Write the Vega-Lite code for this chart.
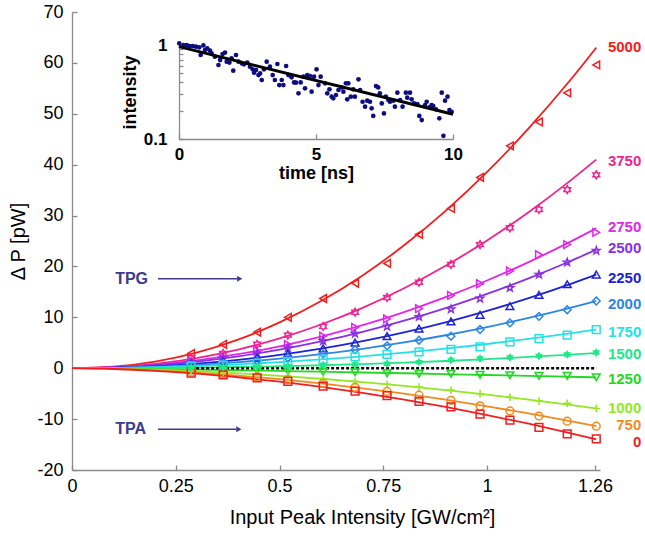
{
"$schema":"https://vega.github.io/schema/vega-lite/v6.json",
"width":528,"height":458,
"autosize":{"type":"none"},
"padding":{"left":72,"top":12,"right":45,"bottom":66},
"background":"white",
"config":{"view":{"stroke":null},"font":"Liberation Sans",
 "axis":{"grid":false,"domainColor":"#8a8a8a","tickColor":"#8a8a8a","domainWidth":1.3,"tickWidth":1.3,"labelColor":"#000","titleColor":"#000","labelFont":"Liberation Sans","titleFont":"Liberation Sans","labelFlush":false,"labelOverlap":false}},
"datasets":{
 "curves":[
  {"x":0,"P5000":0,"P3750":0,"P2750":0,"P2500":0,"P2250":0,"P2000":0,"P1750":0,"P1500":0,"P1250":0,"P1000":0,"P750":0,"P0":0},
  {"x":0.1,"P5000":0.31,"P3750":0.20,"P2750":0.17,"P2500":0.15,"P2250":0.09,"P2000":0.06,"P1750":0.05,"P1500":0.01,"P1250":-0.07,"P1000":-0.08,"P750":-0.12,"P0":-0.15},
  {"x":0.2,"P5000":1.31,"P3750":0.86,"P2750":0.69,"P2500":0.58,"P2250":0.38,"P2000":0.28,"P1750":0.19,"P1500":0.05,"P1250":-0.16,"P1000":-0.29,"P750":-0.41,"P0":-0.51},
  {"x":0.3,"P5000":3.08,"P3750":2.00,"P2750":1.55,"P2500":1.31,"P2250":0.90,"P2000":0.65,"P1750":0.43,"P1500":0.13,"P1250":-0.28,"P1000":-0.59,"P750":-0.86,"P0":-1.05},
  {"x":0.4,"P5000":5.63,"P3750":3.67,"P2750":2.76,"P2500":2.34,"P2250":1.65,"P2000":1.18,"P1750":0.76,"P1500":0.24,"P1250":-0.40,"P1000":-1.00,"P750":-1.44,"P0":-1.77},
  {"x":0.5,"P5000":9.00,"P3750":5.86,"P2750":4.31,"P2500":3.65,"P2250":2.63,"P2000":1.89,"P1750":1.19,"P1500":0.39,"P1250":-0.54,"P1000":-1.49,"P750":-2.15,"P0":-2.64},
  {"x":0.6,"P5000":13.20,"P3750":8.59,"P2750":6.21,"P2500":5.26,"P2250":3.85,"P2000":2.77,"P1750":1.72,"P1500":0.58,"P1250":-0.68,"P1000":-2.07,"P750":-2.98,"P0":-3.67},
  {"x":0.7,"P5000":18.24,"P3750":11.87,"P2750":8.45,"P2500":7.16,"P2250":5.33,"P2000":3.82,"P1750":2.33,"P1500":0.82,"P1250":-0.84,"P1000":-2.73,"P750":-3.94,"P0":-4.84},
  {"x":0.8,"P5000":24.15,"P3750":15.72,"P2750":11.03,"P2500":9.35,"P2250":7.05,"P2000":5.06,"P1750":3.05,"P1500":1.10,"P1250":-0.99,"P1000":-3.47,"P750":-5.01,"P0":-6.15},
  {"x":0.9,"P5000":30.92,"P3750":20.13,"P2750":13.96,"P2500":11.83,"P2250":9.03,"P2000":6.48,"P1750":3.86,"P1500":1.42,"P1250":-1.16,"P1000":-4.29,"P750":-6.19,"P0":-7.61},
  {"x":1.0,"P5000":38.58,"P3750":25.11,"P2750":17.24,"P2500":14.61,"P2250":11.27,"P2000":8.08,"P1750":4.76,"P1500":1.79,"P1250":-1.33,"P1000":-5.19,"P750":-7.49,"P0":-9.20},
  {"x":1.1,"P5000":47.13,"P3750":30.67,"P2750":20.86,"P2500":17.67,"P2250":13.77,"P2000":9.88,"P1750":5.76,"P1500":2.21,"P1250":-1.50,"P1000":-6.16,"P750":-8.89,"P0":-10.91},
  {"x":1.2,"P5000":56.58,"P3750":36.82,"P2750":24.83,"P2500":21.03,"P2250":16.53,"P2000":11.86,"P1750":6.86,"P1500":2.68,"P1250":-1.68,"P1000":-7.21,"P750":-10.40,"P0":-12.77},
  {"x":1.263,"P5000":63.0,"P3750":41.0,"P2750":27.5,"P2500":23.3,"P2250":18.4,"P2000":13.2,"P1750":7.6,"P1500":3.0,"P1250":-1.8,"P1000":-7.9,"P750":-11.4,"P0":-14.0}
 ],
 "markers":[
  {"x":0.287,"P5000":2.9,"P3750":2.0,"P2750":1.42,"P2500":1.20,"P2250":0.82,"P2000":0.59,"P1750":0.39,"P1500":0.15,"P1250":-0.26,"P1000":-0.55,"P750":-0.75,"P0":-0.95},
  {"x":0.364,"P5000":4.7,"P3750":2.9,"P2750":2.29,"P2500":1.94,"P2250":1.35,"P2000":0.97,"P1750":0.63,"P1500":0.22,"P1250":-0.36,"P1000":-0.84,"P750":-1.15,"P0":-1.3},
  {"x":0.446,"P5000":7.1,"P3750":4.7,"P2750":3.43,"P2500":2.91,"P2250":2.07,"P2000":1.48,"P1750":0.95,"P1500":0.33,"P1250":-0.47,"P1000":-1.21,"P750":-1.7,"P0":-1.9},
  {"x":0.520,"P5000":10.0,"P3750":6.5,"P2750":4.66,"P2500":3.95,"P2250":2.85,"P2000":2.05,"P1750":1.29,"P1500":0.45,"P1250":-0.57,"P1000":-1.60,"P750":-2.25,"P0":-2.6},
  {"x":0.605,"P5000":13.7,"P3750":8.2,"P2750":6.31,"P2500":5.35,"P2250":3.92,"P2000":2.81,"P1750":1.74,"P1500":0.6,"P1250":-0.69,"P1000":-2.10,"P750":-3.0,"P0":-3.5},
  {"x":0.682,"P5000":16.7,"P3750":11.0,"P2750":8.02,"P2500":6.79,"P2250":5.05,"P2000":3.62,"P1750":2.22,"P1500":0.75,"P1250":-0.81,"P1000":-2.61,"P750":-3.76,"P0":-4.5},
  {"x":0.759,"P5000":20.6,"P3750":13.9,"P2750":9.7,"P2500":8.2,"P2250":6.3,"P2000":4.4,"P1750":2.7,"P1500":0.9,"P1250":-1.0,"P1000":-3.16,"P750":-4.56,"P0":-5.4},
  {"x":0.836,"P5000":26.3,"P3750":16.9,"P2750":11.7,"P2500":10.1,"P2250":7.8,"P2000":5.5,"P1750":3.2,"P1500":1.2,"P1250":-1.1,"P1000":-3.7,"P750":-5.3,"P0":-6.5},
  {"x":0.913,"P5000":31.4,"P3750":20.4,"P2750":14.3,"P2500":11.6,"P2250":9.2,"P2000":6.3,"P1750":3.7,"P1500":1.6,"P1250":-1.1,"P1000":-4.3,"P750":-6.3,"P0":-7.6},
  {"x":0.983,"P5000":37.5,"P3750":24.3,"P2750":16.6,"P2500":13.7,"P2250":10.5,"P2000":7.6,"P1750":4.2,"P1500":1.9,"P1250":-1.3,"P1000":-5.0,"P750":-7.4,"P0":-9.0},
  {"x":1.055,"P5000":43.7,"P3750":27.6,"P2750":19.1,"P2500":15.8,"P2250":12.2,"P2000":8.9,"P1750":5.2,"P1500":2.1,"P1250":-1.4,"P1000":-5.7,"P750":-8.4,"P0":-10.2},
  {"x":1.125,"P5000":48.4,"P3750":31.2,"P2750":22.3,"P2500":18.4,"P2250":14.4,"P2000":10.2,"P1750":5.8,"P1500":2.4,"P1250":-1.5,"P1000":-6.4,"P750":-9.4,"P0":-11.6},
  {"x":1.193,"P5000":54.1,"P3750":35.1,"P2750":24.3,"P2500":20.8,"P2250":16.5,"P2000":11.5,"P1750":6.5,"P1500":2.7,"P1250":-1.5,"P1000":-6.9,"P750":-10.4,"P0":-12.9},
  {"x":1.263,"P5000":59.6,"P3750":38.0,"P2750":26.7,"P2500":23.1,"P2250":18.4,"P2000":13.2,"P1750":7.6,"P1500":3.1,"P1250":-1.8,"P1000":-7.9,"P750":-11.4,"P0":-13.9}
 ],
 "labels":[
  {"s":"P5000","txt":"5000","y":63.1},{"s":"P3750","txt":"3750","y":40.8},{"s":"P2750","txt":"2750","y":27.8},{"s":"P2500","txt":"2500","y":23.7},
  {"s":"P2250","txt":"2250","y":17.8},{"s":"P2000","txt":"2000","y":12.7},{"s":"P1750","txt":"1750","y":7.1},{"s":"P1500","txt":"1500","y":2.7},
  {"s":"P1250","txt":"1250","y":-2.2},{"s":"P1000","txt":"1000","y":-7.8},{"s":"P750","txt":"750","y":-11.1},{"s":"P0","txt":"0","y":-14.4}
 ],
 "zero":[{"x":0.287,"x2":1.263,"y":0}],
 "annot":[{"t":"TPG","x":0.104,"y":17.6,"a":0.207,"b":0.398,"h":0.404},{"t":"TPA","x":0.104,"y":-12.0,"a":0.207,"b":0.396,"h":0.402}],
 "decay":[
  {"t":0.01,"I":1.04},{"t":0.16,"I":1.0},{"t":0.28,"I":1.0},{"t":0.38,"I":0.975},{"t":0.5,"I":0.975},{"t":0.62,"I":0.96},{"t":0.74,"I":0.945},{"t":0.89,"I":0.99},{"t":0.79,"I":0.783},{"t":0.95,"I":0.885},
  {"t":1.03,"I":0.922},{"t":1.13,"I":0.87},{"t":1.19,"I":0.815},{"t":1.31,"I":0.751},{"t":1.44,"I":0.613},{"t":1.5,"I":0.692},{"t":1.59,"I":0.8},{"t":1.68,"I":0.83},{"t":1.74,"I":0.665},{"t":1.84,"I":0.65},
  {"t":1.92,"I":0.721},{"t":1.98,"I":0.533},{"t":2.08,"I":0.783},{"t":2.17,"I":0.665},{"t":2.29,"I":0.638},{"t":2.37,"I":0.623},{"t":2.49,"I":0.65},{"t":2.59,"I":0.588},{"t":2.69,"I":0.551},{"t":2.74,"I":0.508},
  {"t":2.81,"I":0.542},{"t":2.9,"I":0.479},{"t":2.96,"I":0.499},{"t":3.02,"I":0.424},{"t":3.1,"I":0.551},{"t":3.2,"I":0.665},{"t":3.32,"I":0.588},{"t":3.42,"I":0.479},{"t":3.5,"I":0.424},{"t":3.59,"I":0.628},
  {"t":3.66,"I":0.375},{"t":3.75,"I":0.424},{"t":3.81,"I":0.375},{"t":3.91,"I":0.598},{"t":3.99,"I":0.479},{"t":4.11,"I":0.453},{"t":4.2,"I":0.4},{"t":4.27,"I":0.397},{"t":4.36,"I":0.306},{"t":4.44,"I":0.4},
  {"t":4.54,"I":0.46},{"t":4.6,"I":0.346},{"t":4.68,"I":0.479},{"t":4.78,"I":0.468},{"t":4.84,"I":0.319},{"t":4.93,"I":0.46},{"t":5.02,"I":0.551},{"t":5.09,"I":0.375},{"t":5.17,"I":0.46},{"t":5.33,"I":0.391},
  {"t":5.41,"I":0.306},{"t":5.49,"I":0.338},{"t":5.57,"I":0.282},{"t":5.63,"I":0.271},{"t":5.73,"I":0.294},{"t":5.82,"I":0.332},{"t":5.94,"I":0.354},{"t":6.0,"I":0.319},{"t":6.09,"I":0.391},{"t":6.18,"I":0.391},
  {"t":6.14,"I":0.264},{"t":6.27,"I":0.282},{"t":6.36,"I":0.338},{"t":6.42,"I":0.282},{"t":6.55,"I":0.431},{"t":6.61,"I":0.332},{"t":6.7,"I":0.249},{"t":6.79,"I":0.221},{"t":6.87,"I":0.256},{"t":6.97,"I":0.249},
  {"t":7.03,"I":0.212},{"t":7.09,"I":0.176},{"t":7.19,"I":0.366},{"t":7.27,"I":0.354},{"t":7.33,"I":0.306},{"t":7.4,"I":0.239},{"t":7.48,"I":0.187},{"t":7.55,"I":0.282},{"t":7.64,"I":0.26},{"t":7.7,"I":0.249},
  {"t":7.82,"I":0.256},{"t":7.88,"I":0.221},{"t":7.97,"I":0.311},{"t":8.07,"I":0.26},{"t":8.16,"I":0.221},{"t":8.28,"I":0.311},{"t":8.33,"I":0.275},{"t":8.43,"I":0.311},{"t":8.49,"I":0.264},{"t":8.58,"I":0.239},
  {"t":8.7,"I":0.235},{"t":8.77,"I":0.176},{"t":8.86,"I":0.159},{"t":8.98,"I":0.23},{"t":9.04,"I":0.249},{"t":9.14,"I":0.217},{"t":9.22,"I":0.23},{"t":9.28,"I":0.224},{"t":9.38,"I":0.207},{"t":9.5,"I":0.166},
  {"t":9.59,"I":0.311},{"t":9.71,"I":0.256},{"t":9.8,"I":0.282},{"t":9.87,"I":0.203},{"t":9.95,"I":0.195},{"t":9.65,"I":0.108}
 ],
 "fit":[{"t":0,"I":0.96},{"t":10,"I":0.183}]
},
"layer":[
 {
  "encoding":{
   "x":{"type":"quantitative","scale":{"domain":[0,1.272],"nice":false,"zero":false},
        "axis":{"values":[0,0.25,0.5,0.75,1,1.26],"labelExpr":"'' + datum.value","title":"Input Peak Intensity [GW/cm²]","tickSize":-5,"labelPadding":12,"labelFontSize":18,"titleFontSize":20,"titleFontWeight":"normal","titlePadding":12,"titleX":290}},
   "y":{"type":"quantitative","scale":{"domain":[-20,70],"nice":false,"zero":false},
        "axis":{"values":[-20,-10,0,10,20,30,40,50,60,70],"labelExpr":"'' + datum.value","title":"Δ P [pW]","tickSize":-5,"labelPadding":14,"labelFontSize":18,"titleFontSize":20,"titleFontWeight":"normal","titlePadding":8}}
  },
  "layer":[
   {"data":{"name":"curves"},"transform":[{"fold":["P5000","P3750","P2750","P2500","P2250","P2000","P1750","P1500","P1250","P1000","P750","P0"],"as":["s","v"]}],
    "mark":{"type":"line","strokeWidth":1.8,"interpolate":"monotone"},
    "encoding":{"x":{"field":"x"},"y":{"field":"v"},
     "color":{"field":"s","type":"nominal","legend":null,"scale":{"domain":["P5000","P3750","P2750","P2500","P2250","P2000","P1750","P1500","P1250","P1000","P750","P0"],"range":["#f51c1c","#ee2490","#e226ec","#8a2fe4","#1c22d8","#2a86e6","#22e2e8","#20e888","#22d822","#94e822","#f28a1e","#f01e1e"]}}}},
   {"data":{"name":"zero"},"mark":{"type":"rule","color":"#000","strokeWidth":2.5,"strokeDash":[3,2]},
    "encoding":{"x":{"field":"x"},"x2":{"field":"x2"},"y":{"field":"y"}}},
   {"data":{"name":"markers"},"transform":[{"fold":["P5000","P3750","P2750","P2500","P2250","P2000","P1750","P1250","P1000","P750","P0"],"as":["s","v"]}],
    "mark":{"type":"point","filled":false,"strokeWidth":1.5,"size":60,"opacity":1},
    "encoding":{"x":{"field":"x"},"y":{"field":"v"},"color":{"field":"s","type":"nominal"},
     "shape":{"field":"s","type":"nominal","legend":null,"scale":{"domain":["P5000","P3750","P2750","P2500","P2250","P2000","P1750","P1500","P1250","P1000","P750","P0"],
      "range":["triangle-left","M0,-1L0.289,-0.5L0.866,-0.5L0.577,0L0.866,0.5L0.289,0.5L0,1L-0.289,0.5L-0.866,0.5L-0.577,0L-0.866,-0.5L-0.289,-0.5Z","triangle-right","M0,-1L0.235,-0.324L0.951,-0.309L0.38,0.124L0.588,0.809L0,0.4L-0.588,0.809L-0.38,0.124L-0.951,-0.309L-0.235,-0.324Z","triangle-up","diamond","square","M0,-1L0.289,-0.5L0.866,-0.5L0.577,0L0.866,0.5L0.289,0.5L0,1L-0.289,0.5L-0.866,0.5L-0.577,0L-0.866,-0.5L-0.289,-0.5Z","triangle-down","M-1,0L1,0M0,-1L0,1","circle","square"]}}}},
   {"data":{"name":"markers"},"transform":[{"fold":["P1500"],"as":["s","v"]}],
    "mark":{"type":"point","filled":true,"size":80,"opacity":1,"strokeWidth":1},
    "encoding":{"x":{"field":"x"},"y":{"field":"v"},"color":{"field":"s","type":"nominal"},"shape":{"field":"s","type":"nominal"}}},
   {"data":{"name":"labels"},"mark":{"type":"text","align":"right","baseline":"middle","dx":45,"fontSize":15,"fontWeight":"bold"},
    "encoding":{"x":{"datum":1.263},"y":{"field":"y"},"text":{"field":"txt"},"color":{"field":"s","type":"nominal"}}},
   {"data":{"name":"annot"},"mark":{"type":"text","align":"left","baseline":"middle","fontSize":16,"fontWeight":"bold","color":"#3b3b8f"},
    "encoding":{"x":{"field":"x"},"y":{"field":"y"},"text":{"field":"t"}}},
   {"data":{"name":"annot"},"mark":{"type":"rule","color":"#3b3b8f","strokeWidth":1.5},
    "encoding":{"x":{"field":"a"},"x2":{"field":"b"},"y":{"field":"y"}}},
   {"data":{"name":"annot"},"mark":{"type":"point","shape":"triangle-right","filled":true,"size":36,"color":"#3b3b8f","opacity":1},
    "encoding":{"x":{"field":"h"},"y":{"field":"y"}}}
  ]
 },
 {
  "encoding":{
   "x":{"type":"quantitative","scale":{"domain":[0,10],"range":[107,381],"nice":false,"zero":false},
        "axis":{"orient":"bottom","offset":-331,"values":[0,5,10],"title":"time [ns]","tickSize":-5,"labelPadding":12,"labelFontSize":17,"labelFontWeight":"bold","titleFontSize":18,"titleFontWeight":"bold","titlePadding":2}},
   "y":{"type":"quantitative","scale":{"type":"log","domain":[0.1,1],"range":[127,33],"nice":false},
        "axis":{"orient":"left","offset":-107,"values":[0.1,0.2,0.3,0.4,0.5,0.6,0.7,0.8,0.9,1],"labelExpr":"datum.value > 0.99 ? '1' : (datum.value < 0.11 ? '0.1' : '')","title":"intensity","tickSize":-4,"labelPadding":16,"labelFontSize":17,"labelFontWeight":"bold","titleFontSize":18,"titleFontWeight":"bold","titlePadding":4}}
  },
  "layer":[
   {"data":{"name":"decay"},"mark":{"type":"circle","size":22,"color":"#0d0d80","opacity":1},
    "encoding":{"x":{"field":"t"},"y":{"field":"I"}}},
   {"data":{"name":"fit"},"mark":{"type":"line","color":"#000","strokeWidth":3},
    "encoding":{"x":{"field":"t"},"y":{"field":"I"}}}
  ]
 }
],
"resolve":{"scale":{"x":"independent","y":"independent"}}
}
